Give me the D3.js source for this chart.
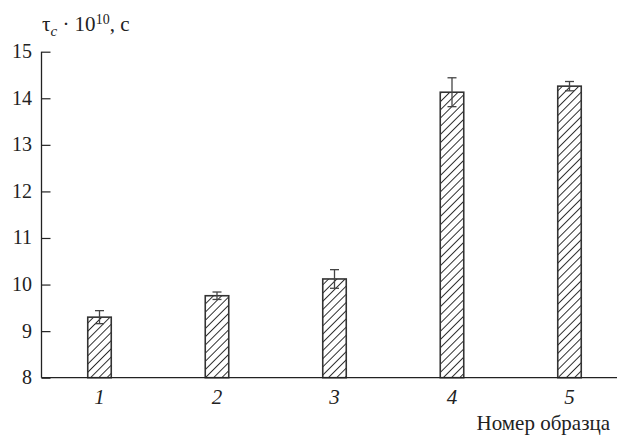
<!DOCTYPE html>
<html>
<head>
<meta charset="UTF-8">
</head>
<body style="margin:0">
<script src="https://d3js.org/d3.v7.min.js"></script>
<script>
    // sample numbers and measured correlation times (x 10^10 s)
    var samples = ["1", "2", "3", "4", "5"];
    var tauValues = [9.30, 9.76, 10.12, 14.13, 14.26];
    var tauErrors = [0.14, 0.08, 0.20, 0.31, 0.10];
    var yTicks = [8, 9, 10, 11, 12, 13, 14, 15];

    var width = 619, height = 436;
    var x0 = 41.5, xEnd = 617, yTop = 51.7, yBottom = 377.7;
    var fontStack = "'Times New Roman', 'Liberation Serif', Tinos, serif";

    var svg = d3.select("body").append("svg")
        .attr("width", width)
        .attr("height", height)
        .style("font-family", fontStack);

    var x = d3.scaleBand()
        .domain(samples)
        .range([40.75, 628.25])
        .paddingInner(0.8)
        .paddingOuter(0.4);

    var y = d3.scaleLinear()
        .domain([8, 15])
        .range([yBottom, yTop]);

    var defs = svg.append("defs");
    defs.append("pattern")
        .attr("id", "hatch")
        .attr("patternUnits", "userSpaceOnUse")
        .attr("width", 5.8)
        .attr("height", 5.8)
        .attr("patternTransform", "rotate(45)")
        .append("line")
        .attr("x1", 0).attr("y1", 0)
        .attr("x2", 0).attr("y2", 5.8)
        .attr("stroke", "#1a1a1a")
        .attr("stroke-width", 1.8);

    // bars
    svg.selectAll("rect.bar")
        .data(samples)
        .enter()
        .append("rect")
        .attr("class", "bar")
        .attr("x", function (d) { return x(d); })
        .attr("y", function (d, i) { return y(tauValues[i]); })
        .attr("width", x.bandwidth())
        .attr("height", function (d, i) { return y(8) - y(tauValues[i]); })
        .attr("fill", "url(#hatch)")
        .attr("stroke", "#333")
        .attr("stroke-width", 1.6);

    // error bars
    var err = svg.selectAll("g.err")
        .data(samples)
        .enter()
        .append("g")
        .attr("class", "err")
        .attr("stroke", "#444")
        .attr("stroke-width", 1.3);

    err.append("line")
        .attr("x1", function (d) { return x(d) + x.bandwidth() / 2; })
        .attr("x2", function (d) { return x(d) + x.bandwidth() / 2; })
        .attr("y1", function (d, i) { return y(tauValues[i] + tauErrors[i]); })
        .attr("y2", function (d, i) { return y(tauValues[i] - tauErrors[i]); });
    [1, -1].forEach(function (s) {
        err.append("line")
            .attr("x1", function (d) { return x(d) + x.bandwidth() / 2 - 4.5; })
            .attr("x2", function (d) { return x(d) + x.bandwidth() / 2 + 4.5; })
            .attr("y1", function (d, i) { return y(tauValues[i] + s * tauErrors[i]); })
            .attr("y2", function (d, i) { return y(tauValues[i] + s * tauErrors[i]); });
    });

    // y axis, ticks pointing inward
    var yAxis = svg.append("g")
        .attr("transform", "translate(" + x0 + ",0)")
        .call(d3.axisRight(y).tickValues(yTicks).tickSize(9).tickFormat(""));
    yAxis.select(".domain").attr("stroke", "#222").attr("stroke-width", 1.3)
        .attr("d", "M0," + yTop + "V" + yBottom);
    yAxis.selectAll(".tick line").attr("stroke", "#222").attr("stroke-width", 1.2);

    // x axis
    svg.append("line")
        .attr("x1", x0).attr("x2", xEnd)
        .attr("y1", yBottom).attr("y2", yBottom)
        .attr("stroke", "#222")
        .attr("stroke-width", 1.3);

    // labels
    svg.selectAll("text.ylab")
        .data(yTicks)
        .enter()
        .append("text")
        .attr("class", "ylab")
        .attr("x", 32)
        .attr("y", function (d) { return y(d) + 6.5; })
        .attr("text-anchor", "end")
        .attr("style", "font-family: " + fontStack + "; font-size: 20px; fill: #222")
        .text(function (d) { return d; });

    svg.selectAll("text.xlab")
        .data(samples)
        .enter()
        .append("text")
        .attr("class", "xlab")
        .attr("x", function (d) { return x(d) + x.bandwidth() / 2; })
        .attr("y", 404)
        .attr("text-anchor", "middle")
        .attr("style", "font-family: " + fontStack + "; font-size: 21px; font-style: italic; fill: #222")
        .text(function (d) { return d; });

    svg.append("text")
        .attr("x", 610)
        .attr("y", 430)
        .attr("text-anchor", "end")
        .attr("style", "font-family: " + fontStack + "; font-size: 21px; fill: #222")
        .text("Номер образца");

    // y axis title
    var title = svg.append("text")
        .attr("x", 42)
        .attr("y", 31)
        .attr("style", "font-family: " + fontStack + "; font-size: 21px; fill: #222");
    title.append("tspan").text("τ");
    title.append("tspan").attr("dy", 5).attr("style", "font-size: 15px; font-style: italic").text("c");
    title.append("tspan").attr("dy", -5).text(" · 10");
    title.append("tspan").attr("dy", -7).attr("style", "font-size: 14px").text("10");
    title.append("tspan").attr("dy", 7).text(", с");
</script>
</body>
</html>
